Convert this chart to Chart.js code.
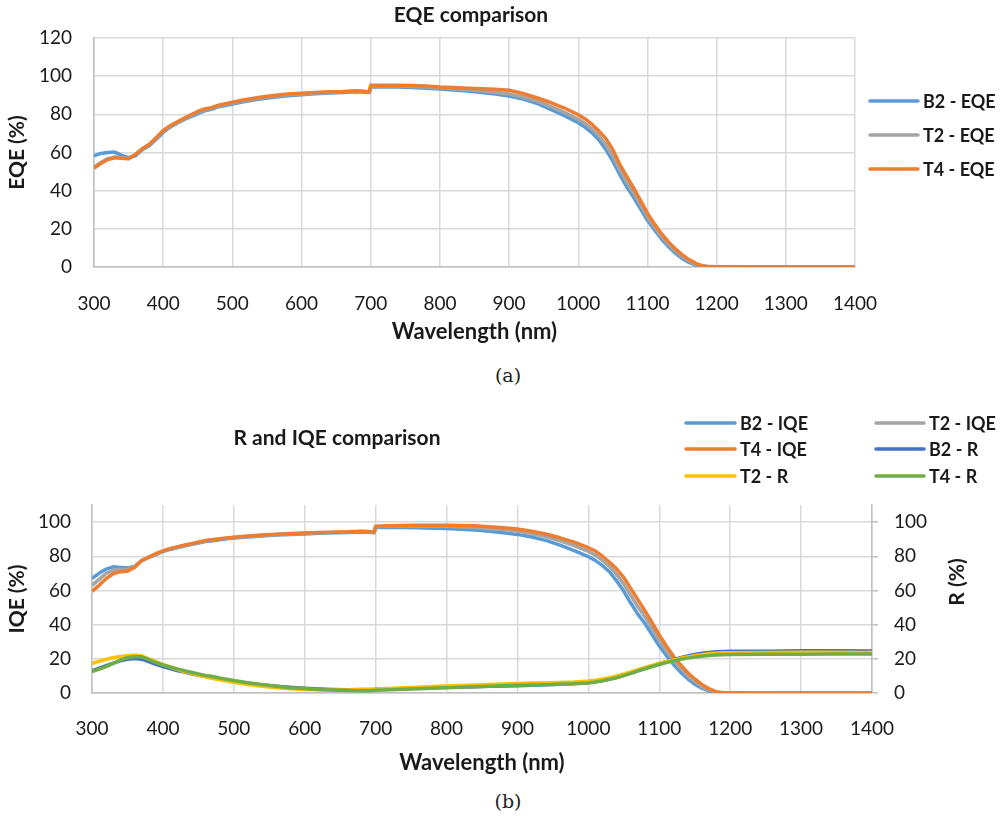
<!DOCTYPE html>
<html><head><meta charset="utf-8">
<script src="https://cdn.jsdelivr.net/npm/chart.js@4"></script>
<style>
html,body{margin:0;padding:0;background:#fff;}
#wrap{position:relative;width:1003px;height:816px;overflow:hidden;background:#fff;}
canvas{position:absolute;left:0;}
.cap{position:absolute;font-family:"DejaVu Serif",serif;font-size:19px;color:#222;transform:translate(-50%,-50%);white-space:nowrap;}
</style></head><body>
<div id="wrap">
<canvas id="c1" width="1003" height="360" style="top:0"></canvas>
<canvas id="c2" width="1003" height="400" style="top:390px"></canvas>
<div class="cap" style="left:508px;top:375px">(a)</div>
<div class="cap" style="left:508px;top:801px">(b)</div>
</div>
<script>
const wavelengths = [300,310,320,330,340,350,360,370,380,390,400,410,420,430,440,450,460,470,480,490,500,520,540,560,580,600,620,640,660,680,690,698,700,720,740,760,780,800,820,840,860,880,900,920,940,960,980,1000,1010,1020,1030,1040,1050,1060,1070,1080,1090,1100,1110,1120,1130,1140,1150,1160,1170,1180,1190,1200,1250,1300,1350,1400];

const eqeB2 = [58.3,59.5,60.0,60.2,58.5,57.3,58.3,61.5,63.5,67.0,70.5,73.3,75.3,77.2,78.8,80.4,81.8,82.6,84.0,84.6,85.4,86.8,88.0,88.9,89.7,90.3,90.8,91.2,91.5,91.8,91.6,91.4,94.3,94.4,94.3,94.1,93.7,93.3,92.8,92.2,91.5,90.7,89.6,88.0,85.8,82.6,79.3,75.6,73.2,70.3,66.6,61.5,55.5,48.5,42.0,36.5,30.5,24.5,19.5,14.8,10.8,7.3,4.5,2.4,1.0,0.3,0.1,0,0,0,0,0];
const eqeT2 = [52.3,54.8,56.8,57.6,57.2,56.9,58.9,61.8,64.0,67.5,71.2,73.7,75.7,77.6,79.4,81.1,82.4,83.1,84.4,85.2,85.9,87.4,88.6,89.5,90.2,90.7,91.2,91.5,91.8,92.1,91.9,91.6,94.8,94.9,94.8,94.6,94.3,93.9,93.4,92.9,92.3,91.6,90.6,89.1,87.0,84.1,81.0,77.4,75.1,72.2,68.6,64.0,58.0,51.0,44.5,38.8,32.5,26.3,21.0,16.2,12.0,8.4,5.5,3.1,1.4,0.4,0.1,0,0,0,0,0];
const eqeT4 = [51.7,54.3,56.3,57.2,57.0,56.7,59.0,62.0,64.3,67.8,71.5,74.0,76.0,77.9,79.8,81.5,82.8,83.5,84.8,85.6,86.3,87.8,89.0,89.9,90.6,91.1,91.5,91.8,92.0,92.4,92.1,91.8,95.2,95.3,95.3,95.1,94.8,94.3,94.0,93.7,93.4,93.1,92.6,90.9,88.7,86.2,83.3,79.8,77.6,74.7,71.2,67.3,61.5,53.8,47.5,41.5,34.8,28.2,22.6,17.6,13.3,9.6,6.5,3.9,1.9,0.6,0.2,0.1,0,0,0,0];

const iqeB2 = [67.0,70.0,72.5,73.8,73.5,73.2,74.0,77.5,79.3,81.0,82.8,84.0,85.0,86.0,86.9,87.8,88.6,89.1,89.7,90.2,90.7,91.3,91.9,92.4,92.8,93.1,93.4,93.7,93.9,94.2,94.0,93.7,96.8,97.0,96.9,96.7,96.4,96.2,95.8,95.3,94.6,93.8,92.8,91.3,89.3,86.5,83.3,79.8,77.5,74.5,70.8,65.5,59.5,52.5,46.0,40.5,34.0,27.5,22.0,16.8,12.2,8.3,5.2,2.8,1.2,0.3,0.1,0,0,0,0,0];
const iqeT2 = [63.0,66.5,70.0,71.8,72.2,72.2,73.8,77.5,79.4,81.3,83.0,84.3,85.3,86.3,87.1,88.1,89.0,89.5,90.0,90.5,91.0,91.6,92.2,92.7,93.1,93.4,93.7,93.9,94.1,94.5,94.3,94.0,97.3,97.5,97.6,97.6,97.6,97.5,97.2,96.9,96.3,95.6,94.8,93.3,91.5,89.0,86.2,82.8,80.6,77.6,74.0,69.3,63.7,57.0,50.5,44.5,37.7,31.0,24.8,19.2,14.4,10.2,6.7,3.9,1.8,0.5,0.1,0,0,0,0,0];
const iqeT4 = [59.5,63.0,67.0,69.8,71.0,71.3,73.5,77.5,79.5,81.5,83.2,84.5,85.5,86.5,87.3,88.3,89.2,89.7,90.2,90.7,91.2,91.8,92.4,92.9,93.3,93.6,93.9,94.1,94.3,94.7,94.5,94.2,97.5,97.8,98.0,98.1,98.2,98.2,98.0,97.8,97.3,96.7,96.0,94.6,93.0,90.8,88.3,85.0,83.0,80.0,76.5,72.5,67.5,61.0,54.5,48.0,41.0,34.0,27.5,21.5,16.5,12.0,8.2,5.0,2.5,0.8,0.2,0.1,0,0,0,0];

const rB2 = [13.0,14.5,16.0,17.5,18.8,19.7,20.2,19.8,18.3,16.8,15.5,14.3,13.2,12.2,11.3,10.4,9.6,8.8,8.1,7.4,6.8,5.7,4.8,4.0,3.3,2.8,2.4,2.1,1.9,2.0,2.1,2.2,2.3,2.5,2.7,2.9,3.1,3.3,3.5,3.7,3.9,4.1,4.3,4.5,4.8,5.1,5.5,6.1,6.6,7.3,8.1,9.1,10.3,11.6,13.0,14.4,15.8,17.1,18.4,19.6,20.7,21.7,22.5,23.2,23.7,24.1,24.3,24.4,24.5,24.7,24.7,24.6];
const rT2 = [17.2,18.6,19.7,20.6,21.3,21.8,22.1,21.7,20.0,18.3,16.6,15.2,13.9,12.6,11.5,10.5,9.5,8.6,7.8,7.0,6.3,5.0,4.0,3.1,2.5,2.1,1.9,1.8,1.8,1.9,2.0,2.1,2.3,2.6,3.0,3.4,3.8,4.1,4.4,4.7,5.0,5.3,5.6,5.8,6.0,6.2,6.5,7.0,7.5,8.2,9.0,10.0,11.1,12.3,13.6,14.9,16.1,17.3,18.4,19.4,20.3,21.1,21.8,22.4,22.9,23.3,23.5,23.6,23.7,23.8,23.8,23.7];
const rT4 = [12.5,14.0,15.4,17.3,19.3,20.6,21.2,21.2,19.6,17.8,16.4,15.2,14.1,13.1,12.1,11.2,10.3,9.6,8.8,8.1,7.3,6.0,4.9,3.9,3.1,2.6,2.1,1.7,1.4,1.3,1.3,1.4,1.6,1.9,2.2,2.5,2.8,3.1,3.4,3.7,4.0,4.2,4.5,4.7,4.9,5.1,5.4,5.9,6.4,7.1,8.0,9.0,10.2,11.5,12.9,14.2,15.5,16.7,17.8,18.8,19.7,20.4,21.0,21.5,21.9,22.2,22.4,22.5,22.6,22.7,22.8,22.8];

const eqeTicksY = [0,20,40,60,80,100,120];
const iqeTicksY = [0,20,40,60,80,100];
const xTicks = [300,400,500,600,700,800,900,1000,1100,1200,1300,1400];

const C = {blue:'#5B9BD5', gray:'#A5A5A5', orange:'#ED7D31', dblue:'#4472C4', yellow:'#FFC000', green:'#70AD47'};
const FONT = 'Lato';
const GRID = '#D9D9D9';
const AXIS = '#BFBFBF';
const TXT = '#1a1a1a';

function pts(arr){ return wavelengths.map((w,i)=>({x:w,y:arr[i]})); }
function ds(label, arr, color, order, axis){
  const d = {label, data:pts(arr), borderColor:color, backgroundColor:color, borderWidth:3.5, pointRadius:0, tension:0, fill:false, order, borderJoinStyle:'round'};
  if(axis) d.yAxisID = axis;
  return d;
}

function overlay(cfg){
  return {id:'overlay'+Math.random().toString(36).slice(2), afterDraw(chart){
    const ctx = chart.ctx; ctx.save();
    if(cfg.title){
      ctx.font = 'bold 21px '+FONT; ctx.fillStyle = TXT; ctx.textAlign='center'; ctx.textBaseline='middle';
      ctx.fillText(cfg.title.text, cfg.title.x, cfg.title.y);
    }
    (cfg.legend||[]).forEach(it=>{
      ctx.strokeStyle = it.color; ctx.lineWidth = 3.5; ctx.lineCap='round';
      ctx.beginPath(); ctx.moveTo(it.x1, it.y); ctx.lineTo(it.x2, it.y); ctx.stroke();
      ctx.font = 'bold 18px '+FONT; ctx.fillStyle = TXT; ctx.textAlign='left'; ctx.textBaseline='middle';
      ctx.fillText(it.text, it.x2+5, it.y+1);
    });
    if(cfg.rtitle){
      ctx.translate(cfg.rtitle.x, cfg.rtitle.y); ctx.rotate(-Math.PI/2);
      ctx.font = 'bold 21px '+FONT; ctx.fillStyle = TXT; ctx.textAlign='center'; ctx.textBaseline='middle';
      ctx.fillText(cfg.rtitle.text, 0, 0);
    }
    ctx.restore();
  }};
}

const tickFont = {family:FONT, size:19};
const titleFont = {family:FONT, size:22, weight:'bold'};
const yTitleFont = {family:FONT, size:21, weight:'bold'};
const plain = v => String(v);

function xScale(h, pad, tpad){
  return {type:'linear', min:300, max:1400,
    afterBuildTicks: s => { s.ticks = xTicks.map(v=>({value:v})); },
    ticks:{font:tickFont, color:TXT, padding:pad, maxRotation:0, autoSkip:false, callback:plain},
    grid:{color:GRID, lineWidth:1.5, drawTicks:false},
    border:{color:AXIS, width:1.5},
    title:{display:true, text:'Wavelength (nm)', font:titleFont, color:TXT, padding:{top:0,bottom:tpad}},
    afterFit: s => { s.height = h; }
  };
}

new Chart(document.getElementById('c1'), {
  type:'line',
  data:{datasets:[
    ds('B2 - EQE', eqeB2, C.blue, 2),
    ds('T2 - EQE', eqeT2, C.gray, 1),
    ds('T4 - EQE', eqeT4, C.orange, 0)
  ]},
  options:{
    responsive:false, animation:false, devicePixelRatio:1,
    layout:{padding:{left:0, top:38, right:148, bottom:13}},
    plugins:{legend:{display:false}, title:{display:false}, tooltip:{enabled:false}},
    scales:{
      x: xScale(80, 25, 2),
      y:{min:0, max:120,
        afterBuildTicks: s => { s.ticks = eqeTicksY.map(v=>({value:v})); },
        ticks:{font:tickFont, color:TXT, padding:22, callback:plain},
        grid:{color:GRID, lineWidth:1.5, drawTicks:false},
        border:{color:AXIS, width:1.5},
        title:{display:true, text:'EQE (%)', font:yTitleFont, color:TXT, padding:{top:5,bottom:0}},
        afterFit: s => { s.width = 94; }
      }
    }
  },
  plugins:[overlay({
    title:{text:'EQE comparison', x:471, y:15},
    legend:[
      {text:'B2 - EQE', color:C.blue, x1:870, x2:918, y:101},
      {text:'T2 - EQE', color:C.gray, x1:870, x2:918, y:135},
      {text:'T4 - EQE', color:C.orange, x1:870, x2:918, y:169}
    ]
  })]
});

new Chart(document.getElementById('c2'), {
  type:'line',
  data:{datasets:[
    ds('B2 - IQE', iqeB2, C.blue, 5, 'y'),
    ds('T2 - IQE', iqeT2, C.gray, 4, 'y'),
    ds('T4 - IQE', iqeT4, C.orange, 3, 'y'),
    ds('B2 - R', rB2, C.dblue, 2, 'y2'),
    ds('T2 - R', rT2, C.yellow, 1, 'y2'),
    ds('T4 - R', rT4, C.green, 0, 'y2')
  ]},
  options:{
    responsive:false, animation:false, devicePixelRatio:1,
    layout:{padding:{left:0, top:115, right:0, bottom:12}},
    plugins:{legend:{display:false}, title:{display:false}, tooltip:{enabled:false}},
    scales:{
      x: xScale(85, 24, 2),
      y:{position:'left', min:0, max:110,
        afterBuildTicks: s => { s.ticks = iqeTicksY.map(v=>({value:v})); },
        ticks:{font:tickFont, color:TXT, padding:21, callback:plain},
        grid:{color:GRID, lineWidth:1.5, drawTicks:false},
        border:{color:AXIS, width:1.5},
        title:{display:true, text:'IQE (%)', font:yTitleFont, color:TXT, padding:{top:5,bottom:0}},
        afterFit: s => { s.width = 92; }
      },
      y2:{position:'right', min:0, max:110,
        afterBuildTicks: s => { s.ticks = iqeTicksY.map(v=>({value:v})); },
        ticks:{font:tickFont, color:TXT, padding:16, callback:plain},
        grid:{color:AXIS, lineWidth:1.5, drawOnChartArea:false, drawTicks:true, tickLength:6},
        border:{color:AXIS, width:1.5},
        afterFit: s => { s.width = 131; }
      }
    }
  },
  plugins:[overlay({
    title:{text:'R and IQE comparison', x:337, y:48},
    legend:[
      {text:'B2 - IQE', color:C.blue, x1:686, x2:735, y:33},
      {text:'T2 - IQE', color:C.gray, x1:876, x2:924, y:33},
      {text:'T4 - IQE', color:C.orange, x1:686, x2:735, y:59},
      {text:'B2 - R', color:C.dblue, x1:876, x2:924, y:59},
      {text:'T2 - R', color:C.yellow, x1:686, x2:735, y:86},
      {text:'T4 - R', color:C.green, x1:876, x2:924, y:86}
    ],
    rtitle:{text:'R (%)', x:957, y:192}
  })]
});
</script>
</body></html>
